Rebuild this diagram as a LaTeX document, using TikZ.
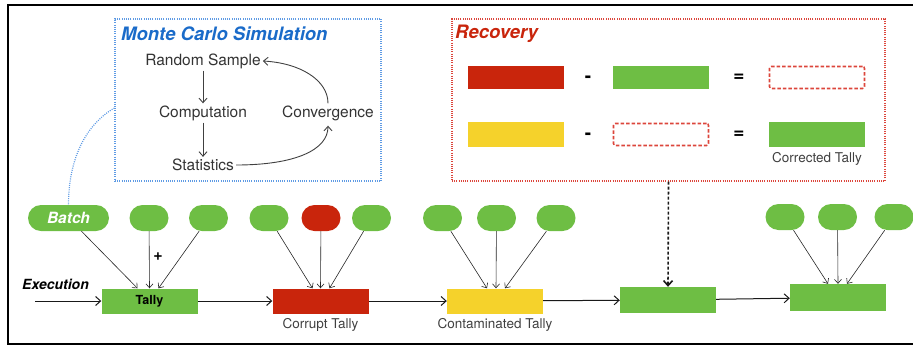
\documentclass[tikz,border=0pt]{standalone}
\usepackage{fontspec}
\setmainfont{TeX Gyre Heros}
\usetikzlibrary{arrows.meta}
\definecolor{tallygreen}{RGB}{110,190,68}
\definecolor{tallyred}{RGB}{201,37,12}
\definecolor{tallyyellow}{RGB}{245,210,43}
\definecolor{mcblue}{RGB}{26,107,201}
\definecolor{mcdots}{RGB}{95,155,228}
\definecolor{recred}{RGB}{220,70,60}

\begin{document}
\begin{tikzpicture}[x=1pt,y=1pt]
\tikzstyle{every node}+=[inner sep=0pt]
\tikzstyle{pill}=[fill=tallygreen, rounded corners=13pt, minimum width=39pt, minimum height=26pt]
\tikzstyle{tallybox}=[fill=tallygreen, minimum width=96pt, minimum height=25pt]
\tikzstyle{holebox}=[draw=recred, dash pattern=on 3.5pt off 2pt, line width=1.6pt, rounded corners=2pt, minimum width=95pt, minimum height=22pt]
\tikzstyle{dotframe}=[dash pattern=on 1pt off 1.2pt, line width=1.2pt]
\tikzstyle{link}=[-{Straight Barb[length=4pt,width=7pt]}, black!85, line width=0.6pt]
\tikzstyle{mclink}=[-{Straight Barb[length=4.5pt,width=8pt]}, black!75, line width=0.9pt]
\tikzstyle{flow}=[-{Straight Barb[length=5pt,width=9pt]}, black!90, line width=1pt]
\tikzstyle{mctext}=[inner sep=2pt, text=black!80, font=\fontsize{15.5}{18}\selectfont]
\tikzstyle{caption}=[text=black!75, font=\fontsize{13.5}{16}\selectfont]
\tikzstyle{sign}=[font=\fontsize{19}{20}\bfseries\selectfont]
\useasboundingbox (0,0) rectangle (913,-346);
\draw [line width=2pt] (913,-5) -- (8,-5) -- (8,-344) -- (913,-344);
\node [draw=mcdots, dotframe, minimum width=266pt, minimum height=162pt] (mcbox) at (248,-100) {};
\node [anchor=west, text=mcblue, font=\fontsize{18.5}{22}\bfseries\itshape\selectfont] (mctitle) at (121,-34) {Monte Carlo Simulation};
\node [mctext] (sample) at (203,-61) {Random Sample};
\node [mctext] (compute) at (203,-113) {Computation};
\node [mctext] (stats) at (203,-165) {Statistics};
\node [mctext] (converge) at (328,-113) {Convergence};
\draw [mclink] (sample) -- (compute);
\draw [mclink] (compute) -- (stats);
\draw [mclink] (stats.east) .. controls (295,-165) and (328,-150) .. ([yshift=-3pt]converge.south);
\draw [mclink] (converge.north) .. controls (328,-80) and (300,-63) .. (sample.east);
\node [draw=recred, dotframe, minimum width=433pt, minimum height=162pt] (recbox) at (668.5,-100) {};
\node [anchor=west, text=tallyred, font=\fontsize{18.5}{22}\bfseries\itshape\selectfont] (rectitle) at (455,-34) {Recovery};
\node [tallybox, fill=tallyred, minimum height=23pt] (rbad) at (516,-77.5) {};
\node [sign] (rminus) at (588,-79) {-};
\node [tallybox, minimum height=23pt] (rgood) at (661,-77.5) {};
\node [sign] (requal) at (739,-78) {=};
\node [holebox] (rhole) at (817,-77.5) {};
\node [tallybox, fill=tallyyellow] (ymix) at (516,-134.5) {};
\node [sign] (yminus) at (588,-136) {-};
\node [holebox] (yhole) at (661,-134.5) {};
\node [sign] (yequal) at (739,-135) {=};
\node [tallybox] (yfix) at (817,-134.5) {};
\node [caption] (fixlabel) at (817,-159) {Corrected Tally};
\node [pill, minimum width=81pt] (batch) at (68.5,-218) {};
\node [text=white, font=\fontsize{15.5}{18}\bfseries\itshape\selectfont] at (batch) {Batch};
\node [pill] (b12) at (149,-218) {};
\node [pill] (b13) at (208.5,-218) {};
\node [pill] (b21) at (269,-218) {};
\node [pill, fill=tallyred] (b22) at (321,-218) {};
\node [pill] (b23) at (371.5,-218) {};
\node [pill] (b31) at (442.5,-218) {};
\node [pill] (b32) at (496.5,-218) {};
\node [pill] (b33) at (556,-218) {};
\node [pill] (b41) at (785,-217) {};
\node [pill] (b42) at (837.5,-217) {};
\node [pill] (b43) at (894,-217) {};
\node [tallybox, font=\fontsize{12.5}{15}\bfseries\selectfont] (tally) at (149.5,-301) {Tally};
\node [tallybox, fill=tallyred] (corrupt) at (320.5,-301) {};
\node [caption, below=5pt] (corruptlabel) at (corrupt.south) {Corrupt Tally};
\node [tallybox, fill=tallyyellow] (mixed) at (495,-301) {};
\node [caption, below=5pt] (mixedlabel) at (mixed.south) {Contaminated Tally};
\node [tallybox, minimum height=26pt] (fixed) at (668,-300) {};
\node [tallybox, minimum height=27pt] (final) at (838,-297.5) {};
\node [anchor=west, font=\fontsize{14}{16}\bfseries\itshape\selectfont] (exec) at (22,-284) {Execution};
\coordinate (start) at (35,-301);
\node [font=\fontsize{16}{18}\bfseries\selectfont] (plus) at (158,-257) {+};
\draw [link] (batch) -- ([xshift=-12pt]tally.north);
\draw [link] (b12) -- (tally.north);
\draw [link] (b13) -- ([xshift=9pt]tally.north);
\draw [link] (b21) -- ([xshift=-8pt]corrupt.north);
\draw [link] (b22) -- (corrupt.north);
\draw [link] (b23) -- ([xshift=9pt]corrupt.north);
\draw [link] (b31) -- ([xshift=-8pt]mixed.north);
\draw [link] (b32) -- ([xshift=1pt]mixed.north);
\draw [link] (b33) -- ([xshift=10pt]mixed.north);
\draw [link] (b41) -- ([xshift=-10pt]final.north);
\draw [link] (b42) -- (final.north);
\draw [link] (b43) -- ([xshift=9pt]final.north);
\draw [flow] (start) -- (tally);
\draw [flow] (tally) -- (corrupt);
\draw [flow] (corrupt) -- (mixed);
\draw [flow] (mixed) -- (fixed);
\draw [flow] (fixed) -- (final);
\draw [flow, line width=1.6pt, dash pattern=on 3pt off 2pt] (recbox.south) -- (fixed.north);
\draw [mcdots, dotframe] ([yshift=-8pt]mcbox.west) .. controls (85,-125) and (68.5,-160) .. (batch.north);
\end{tikzpicture}
\end{document}
